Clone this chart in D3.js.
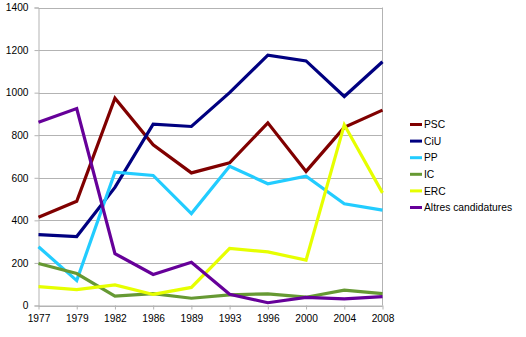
<!DOCTYPE html>
<html><head><meta charset="utf-8">
<script src="https://cdn.jsdelivr.net/npm/d3@7"></script>
<style>body{margin:0;background:#fff}svg{display:block}text{font-family:"Liberation Sans",Arial,sans-serif}</style>
</head><body><svg id="c" width="526" height="337"></svg>
<script>
const years = ["1977","1979","1982","1986","1989","1993","1996","2000","2004","2008"];
const PSC    = [415, 490, 974, 755, 623, 670, 858, 630, 837, 918];
const CiU    = [333, 324, 555, 852, 841, 1000, 1176, 1149, 982, 1145];
const PP     = [276, 117, 626, 611, 432, 654, 572, 607, 478, 448];
const IC     = [197, 150, 44, 56, 34, 50, 55, 39, 72, 56];
const ERC    = [89, 75, 97, 52, 85, 268, 252, 213, 849, 529];
const Altres = [861, 925, 244, 146, 203, 53, 13, 38, 31, 42];
const seriesNames = ["PSC","CiU","PP","IC","ERC","Altres candidatures"];
const seriesValues = [PSC, CiU, PP, IC, ERC, Altres];
const colors = ["#800000","#000080","#22ccff","#669933","#e6ff00","#660099"];
const yTicks = [0,200,400,600,800,1000,1200,1400];

(function(){
const svg = d3.select("#c");
const mLeft = 38.5, mRight = 382.5, mTop = 7.5, mBottom = 305.5;
const x = d3.scalePoint().domain(years).range([mLeft, mRight]);
const y = d3.scaleLinear().domain([0,1400]).range([mBottom, mTop]);

svg.append("g").selectAll("line").data(yTicks).join("line")
  .attr("x1", mLeft).attr("x2", mRight)
  .attr("y1", d=>Math.round(y(d))+0.5).attr("y2", d=>Math.round(y(d))+0.5)
  .attr("stroke", "#b3b3b3").attr("stroke-width", 1);
svg.append("line").attr("x1", mRight).attr("x2", mRight).attr("y1", mTop).attr("y2", mBottom)
  .attr("stroke", "#b3b3b3");

const ya = svg.append("g").attr("transform", `translate(${mLeft},0)`)
  .call(d3.axisLeft(y).tickValues(yTicks).tickSize(4).tickPadding(6).tickFormat(d3.format("d")));
ya.select(".domain").attr("stroke", "#b3b3b3");
ya.selectAll(".tick line").attr("stroke", "#b3b3b3");
ya.selectAll("text").attr("font-size", 10.2).attr("fill", "#000").attr("font-family", "Liberation Sans, Arial, sans-serif");

const xa = svg.append("g").attr("transform", `translate(0,${mBottom})`)
  .call(d3.axisBottom(x).tickSize(4).tickPadding(5).tickSizeOuter(0));
xa.select(".domain").attr("stroke", "#b3b3b3");
xa.selectAll(".tick line").attr("stroke", "#b3b3b3");
xa.selectAll("text").attr("font-size", 10.2).attr("fill", "#000").attr("font-family", "Liberation Sans, Arial, sans-serif");

const line = d3.line().x((d,i)=>x(years[i])).y(d=>y(d));
svg.append("g").selectAll("path").data(seriesValues).join("path")
  .attr("d", line).attr("fill", "none")
  .attr("stroke", (d,i)=>colors[i]).attr("stroke-width", 3.2)
  .attr("stroke-linejoin", "miter").attr("stroke-linecap", "butt");

const lg = svg.append("g").attr("transform", "translate(410,124.5)");
const rows = lg.selectAll("g").data(seriesNames).join("g")
  .attr("transform", (d,i)=>`translate(0,${i*16.6})`);
rows.append("line").attr("x1",0).attr("x2",12).attr("y1",0).attr("y2",0)
  .attr("stroke",(d,i)=>colors[i]).attr("stroke-width",3);
rows.append("text").attr("x",14).attr("y",3.7).attr("font-size",10.3).attr("fill","#000").text(d=>d);
})();
</script></body></html>
